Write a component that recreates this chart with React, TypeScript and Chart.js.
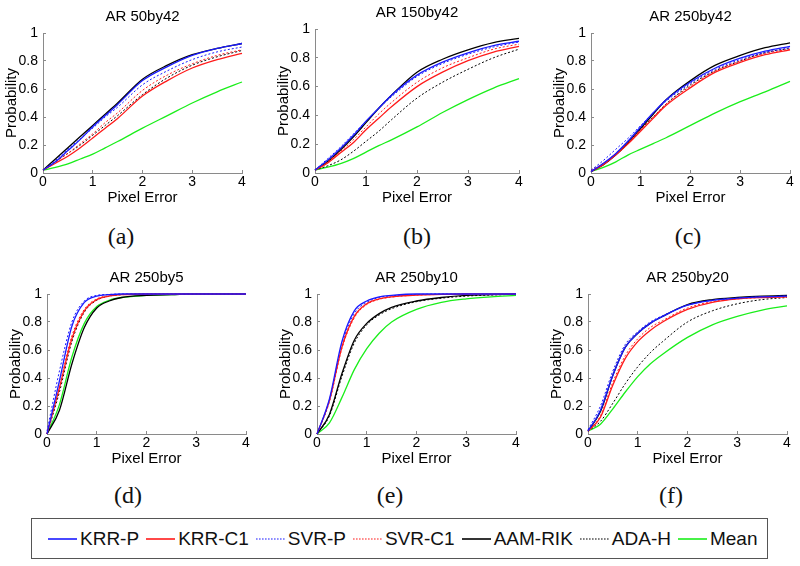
import React, { useEffect, useRef } from 'react';
import { Chart, registerables } from 'chart.js';
Chart.register(...registerables);

// ---------- data ----------
const xs = [0, 0.25, 0.5, 0.75, 1, 1.25, 1.5, 2, 2.5, 3, 3.5, 4];
const xTicks = [0, 1, 2, 3, 4];
const yTicks = [0, 0.2, 0.4, 0.6, 0.8, 1];
const seriesNames = ['KRR-P', 'KRR-C1', 'SVR-P', 'SVR-C1', 'AAM-RIK', 'ADA-H', 'Mean'];
const panelTitles = ['AR 50by42', 'AR 150by42', 'AR 250by42', 'AR 250by5', 'AR 250by10', 'AR 250by20'];
const panelLabels = ['(a)', '(b)', '(c)', '(d)', '(e)', '(f)'];
const xAxisTitle = 'Pixel Error';
const yAxisTitle = 'Probability';

// (a) AR 50by42
const a_krrP = [0.02, 0.08, 0.16, 0.24, 0.33, 0.41, 0.49, 0.66, 0.76, 0.84, 0.89, 0.925];
const a_krrC1 = [0.02, 0.07, 0.12, 0.18, 0.25, 0.32, 0.39, 0.55, 0.66, 0.75, 0.81, 0.855];
const a_svrP = [0.02, 0.09, 0.17, 0.245, 0.32, 0.4, 0.47, 0.63, 0.73, 0.81, 0.865, 0.9];
const a_svrC1 = [0.02, 0.08, 0.14, 0.21, 0.28, 0.36, 0.43, 0.59, 0.7, 0.78, 0.84, 0.88];
const a_aam = [0.02, 0.1, 0.18, 0.26, 0.34, 0.42, 0.5, 0.67, 0.77, 0.845, 0.89, 0.925];
const a_ada = [0.02, 0.08, 0.14, 0.2, 0.27, 0.34, 0.41, 0.56, 0.68, 0.77, 0.83, 0.875];
const a_mean = [0.02, 0.04, 0.065, 0.1, 0.135, 0.18, 0.225, 0.32, 0.41, 0.5, 0.58, 0.65];

// (b) AR 150by42
const b_krrP = [0.02, 0.09, 0.17, 0.26, 0.36, 0.45, 0.54, 0.68, 0.77, 0.835, 0.885, 0.915];
const b_krrC1 = [0.02, 0.07, 0.14, 0.21, 0.3, 0.38, 0.46, 0.6, 0.7, 0.78, 0.84, 0.88];
const b_svrP = [0.02, 0.1, 0.18, 0.27, 0.36, 0.45, 0.53, 0.67, 0.76, 0.825, 0.875, 0.91];
const b_svrC1 = [0.02, 0.08, 0.15, 0.23, 0.32, 0.41, 0.49, 0.63, 0.73, 0.8, 0.86, 0.895];
const b_aam = [0.02, 0.08, 0.16, 0.25, 0.35, 0.45, 0.54, 0.7, 0.79, 0.855, 0.905, 0.935];
const b_ada = [0.02, 0.05, 0.09, 0.15, 0.22, 0.29, 0.37, 0.52, 0.63, 0.72, 0.8, 0.86];
const b_mean = [0.02, 0.04, 0.065, 0.1, 0.145, 0.19, 0.23, 0.32, 0.42, 0.51, 0.59, 0.655];

// (c) AR 250by42
const c_krrP = [0.01, 0.07, 0.14, 0.23, 0.33, 0.43, 0.52, 0.65, 0.75, 0.82, 0.87, 0.905];
const c_krrC1 = [0.01, 0.06, 0.13, 0.21, 0.3, 0.39, 0.48, 0.61, 0.72, 0.79, 0.845, 0.88];
const c_svrP = [0.02, 0.09, 0.17, 0.25, 0.34, 0.43, 0.51, 0.64, 0.74, 0.81, 0.86, 0.895];
const c_svrC1 = [0.02, 0.07, 0.14, 0.22, 0.31, 0.4, 0.49, 0.62, 0.73, 0.8, 0.855, 0.885];
const c_aam = [0.01, 0.06, 0.13, 0.22, 0.32, 0.42, 0.52, 0.66, 0.77, 0.84, 0.895, 0.93];
const c_ada = [0.01, 0.06, 0.13, 0.21, 0.31, 0.4, 0.49, 0.63, 0.73, 0.8, 0.86, 0.89];
const c_mean = [0.01, 0.04, 0.08, 0.13, 0.17, 0.21, 0.25, 0.34, 0.43, 0.51, 0.58, 0.655];

// (d) AR 250by5
const d_krrP = [0, 0.38, 0.77, 0.94, 0.985, 0.995, 1, 1, 1, 1, 1, 1];
const d_krrC1 = [0, 0.33, 0.68, 0.88, 0.96, 0.985, 0.995, 1, 1, 1, 1, 1];
const d_svrP = [0.02, 0.45, 0.8, 0.95, 0.99, 0.997, 1, 1, 1, 1, 1, 1];
const d_svrC1 = [0, 0.34, 0.7, 0.89, 0.965, 0.988, 0.996, 1, 1, 1, 1, 1];
const d_aam = [0, 0.17, 0.5, 0.76, 0.9, 0.95, 0.975, 0.99, 0.995, 1, 1, 1];
const d_ada = [0, 0.3, 0.66, 0.87, 0.955, 0.985, 0.995, 1, 1, 1, 1, 1];
const d_mean = [0, 0.21, 0.55, 0.79, 0.91, 0.955, 0.975, 0.99, 0.995, 1, 1, 1];

// (e) AR 250by10
const e_krrP = [0, 0.25, 0.66, 0.88, 0.95, 0.98, 0.99, 1, 1, 1, 1, 1];
const e_krrC1 = [0, 0.24, 0.62, 0.84, 0.93, 0.965, 0.98, 0.993, 0.997, 1, 1, 1];
const e_svrP = [0, 0.24, 0.64, 0.86, 0.94, 0.975, 0.987, 0.996, 1, 1, 1, 1];
const e_svrC1 = [0, 0.23, 0.61, 0.83, 0.925, 0.962, 0.978, 0.992, 0.997, 1, 1, 1];
const e_aam = [0, 0.14, 0.43, 0.67, 0.79, 0.86, 0.905, 0.95, 0.975, 0.99, 0.995, 1];
const e_ada = [0, 0.13, 0.41, 0.65, 0.78, 0.85, 0.895, 0.945, 0.97, 0.985, 0.993, 0.998];
const e_mean = [0, 0.08, 0.26, 0.46, 0.61, 0.72, 0.8, 0.89, 0.94, 0.965, 0.98, 0.99];

// (f) AR 250by20
const f_krrP = [0.02, 0.17, 0.42, 0.62, 0.72, 0.79, 0.84, 0.92, 0.955, 0.97, 0.98, 0.985];
const f_krrC1 = [0.02, 0.12, 0.35, 0.54, 0.66, 0.74, 0.8, 0.89, 0.94, 0.965, 0.975, 0.98];
const f_svrP = [0.03, 0.2, 0.45, 0.64, 0.73, 0.8, 0.845, 0.92, 0.955, 0.97, 0.98, 0.985];
const f_svrC1 = [0.02, 0.13, 0.37, 0.56, 0.68, 0.76, 0.81, 0.9, 0.945, 0.965, 0.975, 0.98];
const f_aam = [0.02, 0.16, 0.42, 0.62, 0.72, 0.79, 0.84, 0.925, 0.96, 0.975, 0.985, 0.99];
const f_ada = [0.02, 0.09, 0.22, 0.36, 0.48, 0.58, 0.66, 0.8, 0.88, 0.93, 0.96, 0.975];
const f_mean = [0.02, 0.07, 0.18, 0.3, 0.41, 0.5, 0.57, 0.69, 0.78, 0.84, 0.885, 0.915];

const panelSeries = [
  [a_krrP, a_krrC1, a_svrP, a_svrC1, a_aam, a_ada, a_mean],
  [b_krrP, b_krrC1, b_svrP, b_svrC1, b_aam, b_ada, b_mean],
  [c_krrP, c_krrC1, c_svrP, c_svrC1, c_aam, c_ada, c_mean],
  [d_krrP, d_krrC1, d_svrP, d_svrC1, d_aam, d_ada, d_mean],
  [e_krrP, e_krrC1, e_svrP, e_svrC1, e_aam, e_ada, e_mean],
  [f_krrP, f_krrC1, f_svrP, f_svrC1, f_aam, f_ada, f_mean],
];

// ---------- styles & layout ----------
const seriesStyles = [
  { color: '#1a1aff', dash: [] as number[], width: 1.3 },
  { color: '#ff1a1a', dash: [] as number[], width: 1.3 },
  { color: '#1a1aff', dash: [2, 2], width: 1 },
  { color: '#ff1a1a', dash: [2, 2], width: 1 },
  { color: '#000000', dash: [] as number[], width: 1.3 },
  { color: '#000000', dash: [2, 2], width: 1 },
  { color: '#1aee1a', dash: [] as number[], width: 1.3 },
];

// plot-area boxes [left, top, right, bottom] and sub-caption centres
const panelBoxes = [
  [43, 33, 242, 173],
  [315, 29, 519, 173],
  [591, 33, 790, 173],
  [47, 294, 246, 434],
  [317, 294, 516, 434],
  [588, 294, 787, 434],
];
const labelCenters = [
  [121, 236], [417, 236], [688, 236],
  [128, 495], [390, 495], [671, 495],
];

const FONT = "'Liberation Sans', Arial, Helvetica, sans-serif";
const PAD_L = 45, PAD_T = 30, PAD_R = 15, PAD_B = 38;

// panel title centred over the plot area
const areaTitlePlugin = {
  id: 'areaTitle',
  afterDraw(chart: any, _args: any, opts: any) {
    const { ctx, chartArea } = chart;
    ctx.save();
    ctx.font = `15px ${FONT}`;
    ctx.fillStyle = '#000';
    ctx.textAlign = 'center';
    ctx.textBaseline = 'middle';
    ctx.fillText(opts.text, (chartArea.left + chartArea.right) / 2, chartArea.top - 16);
    ctx.restore();
  },
};

function Panel({ idx }: { idx: number }) {
  const ref = useRef<HTMLCanvasElement>(null);
  const [L, T, R, B] = panelBoxes[idx];
  const w = R - L + PAD_L + PAD_R;
  const h = B - T + PAD_T + PAD_B;
  useEffect(() => {
    const series = panelSeries[idx];
    const chart = new Chart(ref.current as HTMLCanvasElement, {
      type: 'line',
      data: {
        datasets: seriesNames.map((name, i) => ({
          label: name,
          data: xs.map((x, j) => ({ x, y: series[i][j] })),
          borderColor: seriesStyles[i].color,
          borderWidth: seriesStyles[i].width,
          borderDash: seriesStyles[i].dash,
          pointRadius: 0,
          cubicInterpolationMode: 'monotone',
          fill: false,
          clip: 4,
        })),
      },
      plugins: [areaTitlePlugin],
      options: {
        responsive: false,
        animation: false,
        devicePixelRatio: 1,
        layout: { padding: { left: 0, top: PAD_T, right: PAD_R, bottom: 0 } },
        plugins: {
          legend: { display: false },
          tooltip: { enabled: false },
          title: { display: false },
          areaTitle: { text: panelTitles[idx] },
        },
        scales: {
          x: {
            type: 'linear',
            min: 0,
            max: 4,
            afterFit: (s: any) => { s.height = PAD_B; },
            afterBuildTicks: (s: any) => { s.ticks = xTicks.map((v) => ({ value: v })); },
            ticks: {
              color: '#000',
              font: { family: FONT, size: 14 },
              padding: 4,
              maxRotation: 0,
              callback: (v: any) => String(v),
            },
            grid: { display: true, drawOnChartArea: false, drawTicks: true, tickLength: -3, color: '#8a8a8a' },
            border: { display: true, color: '#8a8a8a', width: 1 },
            title: {
              display: true,
              text: xAxisTitle,
              color: '#000',
              font: { family: FONT, size: 15, lineHeight: 1.2 },
              padding: { top: 0, bottom: 4 },
            },
          },
          y: {
            type: 'linear',
            min: 0,
            max: 1,
            afterFit: (s: any) => { s.width = PAD_L; },
            afterBuildTicks: (s: any) => { s.ticks = yTicks.map((v) => ({ value: v })); },
            ticks: {
              color: '#000',
              font: { family: FONT, size: 14 },
              padding: 8,
              callback: (v: any) => String(v),
            },
            grid: { display: true, drawOnChartArea: false, drawTicks: true, tickLength: -3, color: '#8a8a8a' },
            border: { display: true, color: '#8a8a8a', width: 1 },
            title: {
              display: true,
              text: yAxisTitle,
              color: '#000',
              font: { family: FONT, size: 15, lineHeight: 1.2 },
              padding: { top: 5, bottom: 0 },
            },
          },
        },
      } as any,
    });
    return () => chart.destroy();
  }, [idx]);
  return (
    <canvas
      ref={ref}
      width={w}
      height={h}
      style={{ position: 'absolute', left: L - PAD_L, top: T - PAD_T, width: w, height: h }}
    />
  );
}

function LegendSample({ i }: { i: number }) {
  const st = seriesStyles[i];
  return (
    <svg width={29} height={6} style={{ display: 'block', flex: 'none' }}>
      <line
        x1={0}
        y1={3}
        x2={29}
        y2={3}
        stroke={st.color}
        strokeWidth={st.dash.length ? 1.2 : 1.6}
        strokeDasharray={st.dash.length ? '1.6,1.4' : undefined}
      />
    </svg>
  );
}

export default function App() {
  return (
    <div
      style={{
        position: 'absolute',
        left: 0,
        top: 0,
        width: 800,
        height: 566,
        background: '#fff',
        overflow: 'hidden',
        fontFamily: FONT,
      }}
    >
      {panelTitles.map((_, i) => (
        <Panel key={i} idx={i} />
      ))}
      {panelLabels.map((lab, i) => (
        <div
          key={lab}
          style={{
            position: 'absolute',
            left: labelCenters[i][0],
            top: labelCenters[i][1],
            transform: 'translate(-50%, -50%)',
            fontFamily: "'Liberation Serif', 'DejaVu Serif', serif",
            fontSize: 24,
            lineHeight: 1,
            whiteSpace: 'nowrap',
            color: '#111',
          }}
        >
          {lab}
        </div>
      ))}
      <div
        style={{
          position: 'absolute',
          left: 31,
          top: 518,
          width: 737,
          height: 41,
          boxSizing: 'border-box',
          border: '1.5px solid #555',
          display: 'flex',
          alignItems: 'center',
          paddingLeft: 16,
          fontSize: 19,
          color: '#111',
          whiteSpace: 'nowrap',
        }}
      >
        {seriesNames.map((name, i) => (
          <div key={name} style={{ display: 'flex', alignItems: 'center', marginRight: 7 }}>
            <LegendSample i={i} />
            <span style={{ marginLeft: 3 }}>{name}</span>
          </div>
        ))}
      </div>
    </div>
  );
}
